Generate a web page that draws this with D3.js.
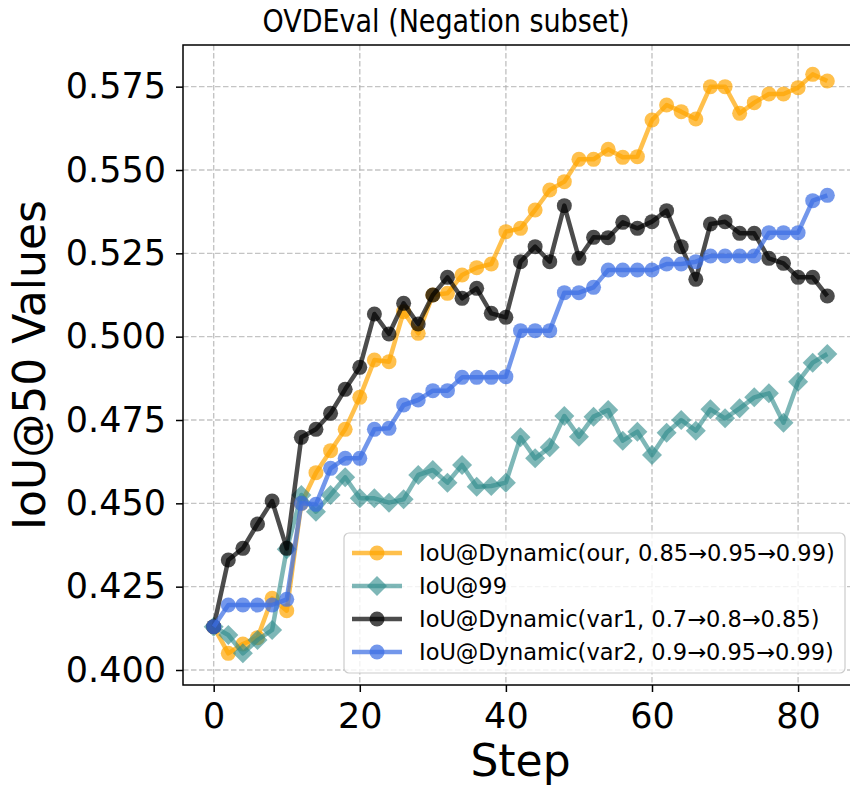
<!DOCTYPE html>
<html>
<head>
<meta charset="utf-8">
<script src="https://cdn.jsdelivr.net/npm/d3@7"></script>
<style>
    body { margin: 0; background: #fff; }
    svg { display: block; font-family: "DejaVu Sans", sans-serif; }
</style>
</head>
<body>
<svg id="chart" width="850" height="790"></svg>
<script>
const steps = [0, 2, 4, 6, 8, 10, 12, 14, 16, 18, 20, 22, 24, 26, 28, 30, 32, 34, 36, 38, 40,
    42, 44, 46, 48, 50, 52, 54, 56, 58, 60, 62, 64, 66, 68, 70, 72, 74, 76, 78, 80, 82, 84];

const oursValues = [0.413, 0.405, 0.4078, 0.4097, 0.4215, 0.4178, 0.450, 0.4592, 0.4658, 0.4722,
    0.4818, 0.493, 0.4925, 0.5075, 0.501, 0.5125, 0.513, 0.5185, 0.5207, 0.5218, 0.5315, 0.5325,
    0.538, 0.544, 0.5465, 0.5532, 0.5532, 0.5562, 0.5538, 0.554, 0.565, 0.5695, 0.5675, 0.5653,
    0.575, 0.575, 0.567, 0.5702, 0.5728, 0.5728, 0.5747, 0.5787, 0.5767];

const iou99Values = [0.413, 0.4105, 0.405, 0.409, 0.412, 0.4362, 0.4525, 0.4475, 0.4525, 0.4578,
    0.4515, 0.4515, 0.4502, 0.4512, 0.4585, 0.460, 0.4562, 0.4615, 0.455, 0.4552, 0.4562, 0.4698,
    0.4635, 0.4668, 0.4762, 0.470, 0.476, 0.478, 0.4688, 0.4715, 0.4645, 0.4712, 0.475, 0.4718,
    0.4782, 0.4755, 0.4785, 0.4818, 0.483, 0.4742, 0.4865, 0.4922, 0.4948];

const var1Values = [0.413, 0.433, 0.4365, 0.4438, 0.4507, 0.4365, 0.4698, 0.4722, 0.477, 0.4842,
    0.4908, 0.5068, 0.5008, 0.510, 0.5038, 0.5125, 0.5178, 0.5115, 0.5145, 0.507, 0.5058, 0.5225,
    0.527, 0.5225, 0.5393, 0.5235, 0.5298, 0.5297, 0.5343, 0.5325, 0.5345, 0.5378, 0.527, 0.5172,
    0.5338, 0.5345, 0.531, 0.531, 0.5235, 0.522, 0.5178, 0.5178, 0.5122];

const var2Values = [0.413, 0.4195, 0.4195, 0.4195, 0.4195, 0.4212, 0.450, 0.4497, 0.4605, 0.4635,
    0.4635, 0.4722, 0.4725, 0.4795, 0.481, 0.4838, 0.4838, 0.4878, 0.4878, 0.4878, 0.488, 0.5018,
    0.5018, 0.5018, 0.5132, 0.5132, 0.5148, 0.520, 0.520, 0.520, 0.520, 0.5218, 0.5218, 0.5225,
    0.5242, 0.5242, 0.5242, 0.5242, 0.5312, 0.5312, 0.5312, 0.5408, 0.5424];

const seriesNames = ["IoU@Dynamic(our, 0.85\u21920.95\u21920.99)", "IoU@99",
    "IoU@Dynamic(var1, 0.7\u21920.8\u21920.85)", "IoU@Dynamic(var2, 0.9\u21920.95\u21920.99)"];

const xTicks = [0, 20, 40, 60, 80];
const yTicks = [0.400, 0.425, 0.450, 0.475, 0.500, 0.525, 0.550, 0.575];

const series = [
    {"name": seriesNames[0], "values": oursValues, "color": "#FFA500", "alpha": 0.7, "marker": "circle"},
    {"name": seriesNames[1], "values": iou99Values, "color": "#2E8B8B", "alpha": 0.62, "marker": "diamond"},
    {"name": seriesNames[2], "values": var1Values, "color": "#000000", "alpha": 0.7, "marker": "circle"},
    {"name": seriesNames[3], "values": var2Values, "color": "#3D6FE3", "alpha": 0.72, "marker": "circle"}
];

const plot = {"left": 183, "right": 858, "top": 45, "bottom": 685};
const style = {"lineWidth": 4.5, "radius": 7.5, "diamondArea": 200};

const svg = d3.select("#chart");

let x = d3.scaleLinear()
    .domain([-4.2, 88.2])
    .range([plot.left, plot.right]);

let y = d3.scaleLinear()
    .domain([0.3955, 0.5875])
    .range([plot.bottom, plot.top]);

// dashed grid
let grid = svg.append("g")
    .attr("stroke", "#b0b0b0")
    .attr("stroke-opacity", 0.75)
    .attr("stroke-width", 1.4)
    .attr("stroke-dasharray", "5.5,2.5");

grid.selectAll("line.gx")
    .data(xTicks)
    .enter().append("line")
    .attr("class", "gx")
    .attr("x1", d => x(d)).attr("x2", d => x(d))
    .attr("y1", plot.top).attr("y2", plot.bottom);

grid.selectAll("line.gy")
    .data(yTicks)
    .enter().append("line")
    .attr("class", "gy")
    .attr("y1", d => y(d)).attr("y2", d => y(d))
    .attr("x1", plot.left).attr("x2", plot.right);

function drawMarker(g, s, cx, cy) {
    if (s.marker === "circle") {
        g.append("circle")
            .attr("cx", cx).attr("cy", cy)
            .attr("r", style.radius)
            .attr("fill", s.color)
            .attr("fill-opacity", s.alpha);
    } else {
        g.append("path")
            .attr("d", d3.symbol(d3.symbolSquare, style.diamondArea)())
            .attr("transform", `translate(${cx},${cy}) rotate(45)`)
            .attr("fill", s.color)
            .attr("fill-opacity", s.alpha);
    }
}

let line = d3.line()
    .x((d, i) => x(steps[i]))
    .y(d => y(d));

series.forEach(s => {
    let g = svg.append("g");
    g.append("path")
        .attr("d", line(s.values))
        .attr("fill", "none")
        .attr("stroke", s.color)
        .attr("stroke-opacity", s.alpha)
        .attr("stroke-width", style.lineWidth)
        .attr("stroke-linejoin", "round");
    s.values.forEach((v, i) => drawMarker(g, s, x(steps[i]), y(v)));
});

// axes
let yAxis = svg.append("g")
    .attr("transform", `translate(${plot.left},0)`)
    .call(d3.axisLeft(y)
        .tickValues(yTicks)
        .tickFormat(d3.format(".3f"))
        .tickSize(7)
        .tickSizeOuter(0)
        .tickPadding(10));

let xAxis = svg.append("g")
    .attr("transform", `translate(0,${plot.bottom})`)
    .call(d3.axisBottom(x)
        .tickValues(xTicks)
        .tickFormat(d3.format("d"))
        .tickSize(7)
        .tickSizeOuter(0)
        .tickPadding(11));

[xAxis, yAxis].forEach(a => {
    a.select(".domain").remove();
    a.selectAll(".tick line").attr("stroke", "#000").attr("stroke-width", 1.5);
    a.selectAll(".tick text")
        .attr("fill", "#000")
        .style("font-family", "DejaVu Sans")
        .style("font-size", "35px");
});

svg.append("rect")
    .attr("x", plot.left).attr("y", plot.top)
    .attr("width", plot.right - plot.left)
    .attr("height", plot.bottom - plot.top)
    .attr("fill", "none")
    .attr("stroke", "#000")
    .attr("stroke-width", 1.5);

// labels
svg.append("text")
    .attr("x", 446).attr("y", 32)
    .attr("text-anchor", "middle")
    .attr("textLength", 367)
    .attr("lengthAdjust", "spacingAndGlyphs")
    .style("font-size", "32px")
    .text("OVDEval (Negation subset)");

svg.append("text")
    .attr("x", (plot.left + plot.right) / 2).attr("y", 776)
    .attr("text-anchor", "middle")
    .style("font-size", "44px")
    .text("Step");

svg.append("text")
    .attr("transform", `translate(45,${(plot.top + plot.bottom) / 2}) rotate(-90)`)
    .attr("text-anchor", "middle")
    .style("font-size", "44px")
    .text("IoU@50 Values");

// legend
let legend = svg.append("g");

legend.append("rect")
    .attr("x", 344).attr("y", 533)
    .attr("width", 501).attr("height", 140)
    .attr("rx", 5)
    .attr("fill", "#fff")
    .attr("fill-opacity", 0.8)
    .attr("stroke", "#cccccc")
    .attr("stroke-width", 1.2);

series.forEach((s, i) => {
    let cy = 553 + i * 33;
    let g = legend.append("g");
    g.append("line")
        .attr("x1", 352).attr("x2", 402)
        .attr("y1", cy).attr("y2", cy)
        .attr("stroke", s.color)
        .attr("stroke-opacity", s.alpha)
        .attr("stroke-width", style.lineWidth);
    drawMarker(g, s, 377, cy);
    g.append("text")
        .attr("x", 419).attr("y", cy + 8)
        .style("font-size", "22.5px")
        .text(s.name);
});
</script>
</body>
</html>
